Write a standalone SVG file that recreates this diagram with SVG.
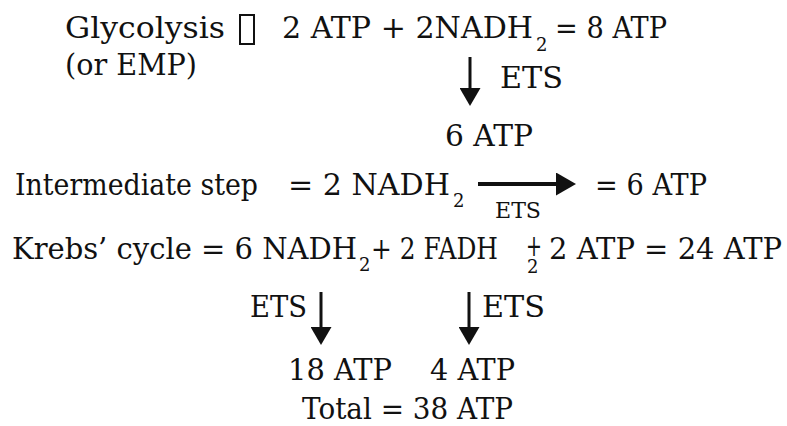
<svg xmlns="http://www.w3.org/2000/svg" width="787" height="426" viewBox="0 0 787 426">
<defs>
<style>
text{fill:#111;font-size:29px;font-family:"DejaVu Serif","Liberation Serif",serif}
text.sub{font-size:18px}
text.small{font-size:23px}
.conn{stroke:#111;fill:none}
</style>
<marker id="headDown" markerUnits="userSpaceOnUse" viewBox="0 0 18 21" refX="0" refY="10.5" markerWidth="18" markerHeight="21" orient="auto">
<path d="M0,0 L18,10.5 L0,21 z" fill="#111"/>
</marker>
<marker id="headRight" markerUnits="userSpaceOnUse" viewBox="0 0 20 23" refX="0" refY="11.5" markerWidth="20" markerHeight="23" orient="auto">
<path d="M0,0 L20,11.5 L0,23 z" fill="#111"/>
</marker>
</defs>
<rect width="787" height="426" fill="#fff"/>
<g id="glycolysis">
<text x="65" y="38" textLength="160" lengthAdjust="spacingAndGlyphs">Glycolysis</text>
<rect x="240" y="15" width="14" height="29" fill="none" stroke="#111" stroke-width="2"/>
<text x="65" y="75" textLength="132" lengthAdjust="spacingAndGlyphs">(or EMP)</text>
</g>
<g id="glycolysis-eq">
<text x="282" y="38" textLength="251" lengthAdjust="spacingAndGlyphs">2 ATP + 2NADH</text>
<text class="sub" x="536" y="51">2</text>
<text x="555" y="38" textLength="112" lengthAdjust="spacingAndGlyphs">= 8 ATP</text>
</g>
<g id="glycolysis-ets">
<text x="500" y="88" textLength="63" lengthAdjust="spacingAndGlyphs">ETS</text>
</g>
<g id="glycolysis-atp">
<text x="445" y="146" textLength="88" lengthAdjust="spacingAndGlyphs">6 ATP</text>
</g>

<g id="intermediate">
<text x="15" y="195" textLength="243" lengthAdjust="spacingAndGlyphs">Intermediate step</text>
<text x="288" y="195" textLength="162" lengthAdjust="spacingAndGlyphs">= 2 NADH</text>
<text class="sub" x="453" y="207">2</text>
<text class="small" x="495" y="218" textLength="46" lengthAdjust="spacingAndGlyphs">ETS</text>
<text x="595" y="195" textLength="112" lengthAdjust="spacingAndGlyphs">= 6 ATP</text>
</g>

<g id="krebs">
<text x="12" y="259" textLength="345" lengthAdjust="spacingAndGlyphs">Krebs’ cycle = 6 NADH</text>
<text class="sub" x="359" y="271">2</text>
<text x="371" y="259" textLength="127" lengthAdjust="spacingAndGlyphs">+ 2 FADH</text>
<text x="526" y="256" textLength="16" lengthAdjust="spacingAndGlyphs">+</text>
<text class="sub" x="527" y="273">2</text>
<text x="549" y="259" textLength="233" lengthAdjust="spacingAndGlyphs">2 ATP = 24 ATP</text>
</g>
<g id="krebs-ets-left">
<text x="250" y="317" textLength="57" lengthAdjust="spacingAndGlyphs">ETS</text>
</g>
<g id="krebs-ets-right">
<text x="482" y="317" textLength="63" lengthAdjust="spacingAndGlyphs">ETS</text>
</g>
<g id="atp18">
<text x="288" y="380" textLength="104" lengthAdjust="spacingAndGlyphs">18 ATP</text>
</g>
<g id="atp4">
<text x="430" y="380" textLength="85" lengthAdjust="spacingAndGlyphs">4 ATP</text>
</g>
<g id="total">
<text x="302" y="419" textLength="211" lengthAdjust="spacingAndGlyphs">Total = 38 ATP</text>
</g>
<g id="connectors">
<path class="conn" d="M470 57 V88" stroke-width="3" marker-end="url(#headDown)"/>
<path class="conn" d="M478 184 H556" stroke-width="4" marker-end="url(#headRight)"/>
<path class="conn" d="M321 292 V327" stroke-width="3" marker-end="url(#headDown)"/>
<path class="conn" d="M469 292 V327" stroke-width="3" marker-end="url(#headDown)"/>
</g>
</svg>
